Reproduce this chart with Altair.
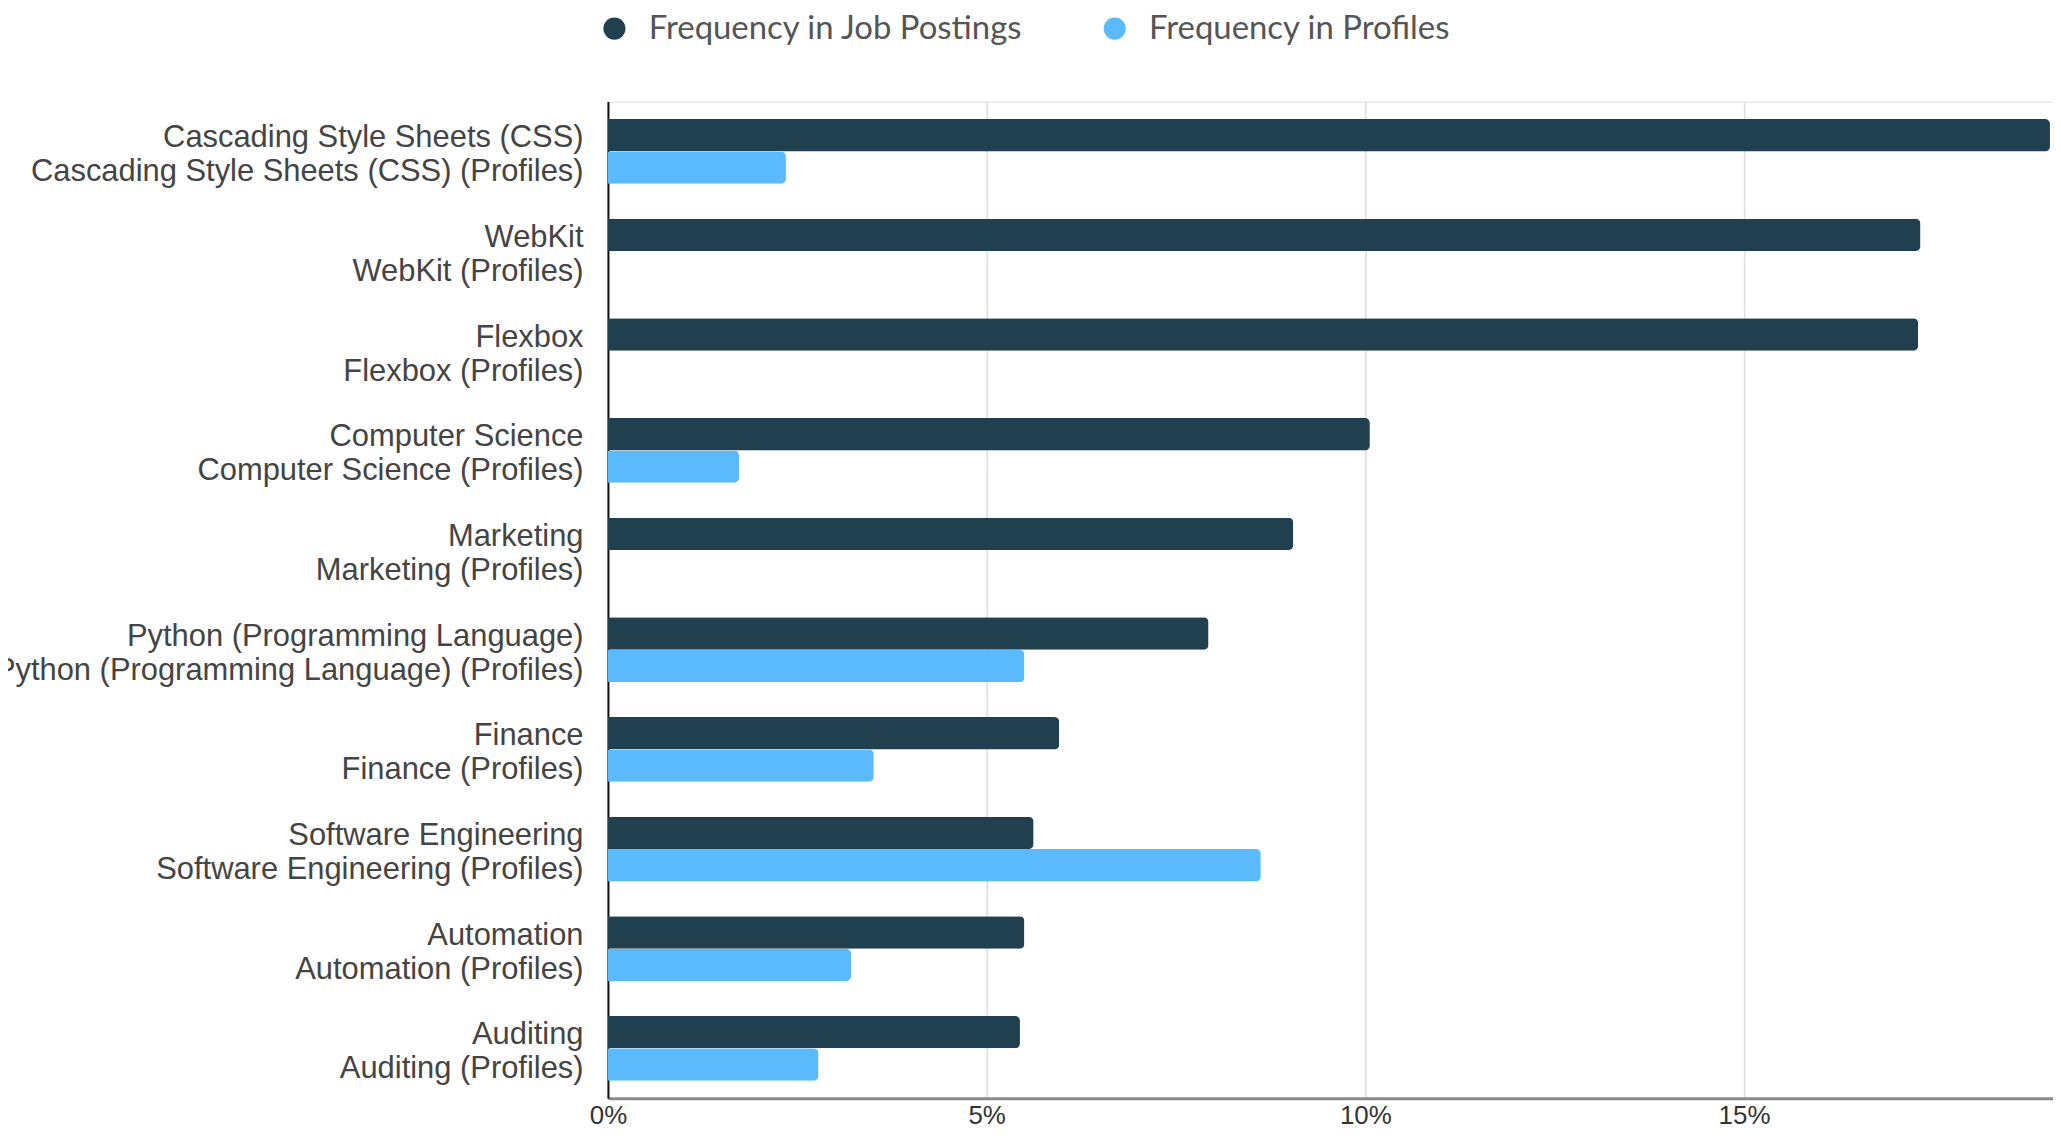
import altair as alt
import pandas as pd

categories = [
    "Cascading Style Sheets (CSS)",
    "WebKit",
    "Flexbox",
    "Computer Science",
    "Marketing",
    "Python (Programming Language)",
    "Finance",
    "Software Engineering",
    "Automation",
    "Auditing",
]
series_names = ["Frequency in Job Postings", "Frequency in Profiles"]
job_postings = [19.04, 17.33, 17.30, 10.06, 9.05, 7.93, 5.96, 5.62, 5.50, 5.44]
profiles = [2.35, 0.0, 0.0, 1.73, 0.0, 5.50, 3.51, 8.62, 3.21, 2.78]
x_ticks = [0, 5, 10, 15]
x_max = 19.08
colors = ["#21404f", "#5bbafc"]

rows = []
for c, j, p in zip(categories, job_postings, profiles):
    rows.append({"category": c, "series": series_names[0], "value": j})
    rows.append({"category": c, "series": series_names[1], "value": p})
df = pd.DataFrame(rows)

chart = (
    alt.Chart(df)
    .mark_bar(cornerRadiusEnd=5)
    .encode(
        x=alt.X(
            "value:Q",
            scale=alt.Scale(domain=[0, x_max], nice=False, zero=True),
            axis=alt.Axis(
                values=x_ticks,
                labelExpr="datum.value + '%'",
                title=None,
                grid=True,
                gridColor="#dddddd",
                gridWidth=1.5,
                domainColor="#8a8a8a",
                domainWidth=3,
                ticks=False,
                labelFont="Liberation Sans",
                labelFontSize=26,
                labelColor="#333333",
                labelPadding=4,
                labelFlush=False,
            ),
        ),
        y=alt.Y(
            "category:N",
            sort=categories,
            scale=alt.Scale(paddingInner=0.35, paddingOuter=0.175),
            axis=alt.Axis(
                title=None,
                ticks=False,
                grid=False,
                domainColor="#111111",
                domainWidth=2,
                labelExpr="[datum.label, datum.label + ' (Profiles)']",
                labelFont="Liberation Sans",
                labelFontSize=31,
                labelColor="#444444",
                labelLineHeight=34,
                labelBaseline="middle",
                labelOffset=-13,
                labelPadding=25,
                labelLimit=2000,
            ),
        ),
        yOffset=alt.YOffset("series:N", sort=series_names,
                            scale=alt.Scale(paddingInner=0, paddingOuter=0)),
        color=alt.Color(
            "series:N",
            sort=series_names,
            scale=alt.Scale(domain=series_names, range=colors),
            legend=alt.Legend(
                title=None,
                orient="none",
                direction="horizontal",
                legendX=-10,
                legendY=-90,
                symbolType="circle",
                symbolSize=490,
                symbolStrokeWidth=0,
                symbolOpacity=1,
                labelFont="Lato",
                labelFontSize=33,
                labelColor="#555555",
                labelOffset=18,
                labelLimit=2000,
                columnPadding=75,
                padding=0,
            ),
        ),
    )
    .properties(
        width=1450,
        height=1000,
        autosize=alt.AutoSizeParams(type="none"),
        padding={"left": 602, "top": 92, "right": 0, "bottom": 31},
    )
    .configure_view(stroke="transparent", strokeWidth=0)
    .configure(background="white")
)

chart.save("out.html", embed_options={"renderer": "svg", "actions": False})
